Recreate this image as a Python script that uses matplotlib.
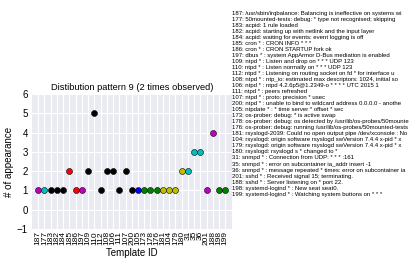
import matplotlib
matplotlib.use("Agg")
import matplotlib.pyplot as plt

# Template ids along the x axis and how often each one appears
template_ids = ["187", "177", "183", "182", "184", "185", "186", "197", "109", "110",
                "112", "108", "106", "111", "107", "200", "105", "173", "178", "176",
                "181", "104", "179", "180", "31", "35", "36", "201", "188", "198", "199"]
appearances = [1, 1, 1, 1, 1, 2, 1, 1, 2, 5, 1, 2, 2, 1, 2, 1,
               1, 1, 1, 1, 1, 1, 1, 2, 2, 3, 3, 1, 4, 1, 1]
# process each template belongs to (drives the marker colour)
processes = ["irqbalance", "50mounted-tests", "acpid", "acpid", "acpid", "cron", "cron",
             "dbus", "ntpd", "ntpd", "ntpd", "ntpd", "ntpd", "ntpd", "ntpd", "ntpd",
             "ntpdate", "os-prober", "os-prober", "os-prober", "rsyslogd", "rsyslogd",
             "rsyslogd", "rsyslogd", "snmpd", "snmpd", "snmpd", "sshd", "sshd",
             "systemd-logind", "systemd-logind"]
process_colors = {
    "irqbalance": "m", "50mounted-tests": "c", "acpid": "k", "cron": "r",
    "dbus": "m", "ntpd": "k", "ntpdate": "b", "os-prober": "g",
    "rsyslogd": "y", "snmpd": "c", "sshd": "m", "systemd-logind": "g",
}
template_texts = [
    "187: /usr/sbin/irqbalance: Balancing is ineffective on systems wi",
    "177: 50mounted-tests: debug: * type not recognised; skipping",
    "183: acpid: 1 rule loaded",
    "182: acpid: starting up with netlink and the input layer",
    "184: acpid: waiting for events: event logging is off",
    "185: cron * : CRON INFO * * *",
    "186: cron * : CRON STARTUP fork ok",
    "197: dbus * : system AppArmor D-Bus mediation is enabled",
    "109: ntpd * : Listen and drop on * * * UDP 123",
    "110: ntpd * : Listen normally on * * * UDP 123",
    "112: ntpd * : Listening on routing socket on fd * for interface u",
    "108: ntpd * : ntp_io: estimated max descriptors: 1024, initial so",
    "106: ntpd * : ntpd 4.2.6p5@1.2349-o * * * * UTC 2015 1",
    "111: ntpd * : peers refreshed",
    "107: ntpd * : proto: precision * usec",
    "200: ntpd * : unable to bind to wildcard address 0.0.0.0 - anothe",
    "105: ntpdate * : * time server * offset * sec",
    "173: os-prober: debug: * is active swap",
    "178: os-prober: debug: os detected by /usr/lib/os-probes/50mounte",
    "176: os-prober: debug: running /usr/lib/os-probes/50mounted-tests",
    "181: rsyslogd-2039: Could no open output pipe /dev/xconsole : No",
    "104: rsyslogd: origin software rsyslogd swVersion 7.4.4 x-pid * x",
    "179: rsyslogd: origin software rsyslogd swVersion 7.4.4 x-pid * x",
    "180: rsyslogd: rsyslogd s * changed to *",
    "31: snmpd * : Connection from UDP: * * * :161",
    "35: snmpd * : error on subcontainer ia_addr insert -1",
    "36: snmpd * : message repeated * times: error on subcontainer ia",
    "201: sshd * : Received signal 15; terminating.",
    "188: sshd * : Server listening on * port 22.",
    "198: systemd-logind * : New seat seat0.",
    "199: systemd-logind * : Watching system buttons on * * *",
]

plt.rcParams['font.family'] = ['Liberation Sans', 'DejaVu Sans']

W, H = 415, 266
fig = plt.figure(figsize=(W / 100, H / 100), dpi=100)
ax = fig.add_axes([32 / W, (H - 229) / H, 199.5 / W, 135 / H])
ax.set_facecolor('#EAEAF2')
for s in ax.spines.values():
    s.set_visible(False)
ax.grid(True, color='white', linewidth=0.8)
ax.set_axisbelow(True)

xs = list(range(len(template_ids)))
for x, y, p in zip(xs, appearances, processes):
    ax.plot(x, y, 'o', color=process_colors[p], markeredgecolor='k',
            markeredgewidth=0.4, markersize=4.3)

ax.set_xlim(-1, len(template_ids))
ax.set_ylim(-1, 6)
ax.set_xticks(xs)
ax.set_xticklabels(template_ids, rotation=90, fontsize=6)
ax.set_yticks(range(-1, 7))
ax.tick_params(axis='y', labelsize=7, length=0, pad=3)
ax.tick_params(axis='x', length=0, pad=1.5)
ax.set_xlabel('Template ID', fontsize=7, labelpad=2)
ax.set_ylabel('# of appearance', fontsize=7, labelpad=2)
ax.set_title('Distibution pattern 9 (2 times observed)', fontsize=6.7, pad=3)

fig.text(232 / W, 1 - 10.5 / H, "\n".join(template_texts), fontsize=4.35,
         va='top', ha='left', linespacing=1.26)

fig.savefig('out.png', dpi=100)
